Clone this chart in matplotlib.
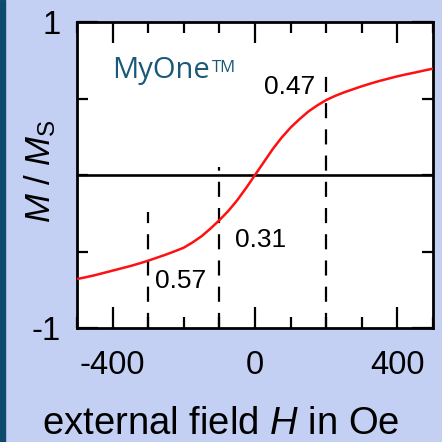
import numpy as np
import matplotlib
matplotlib.use("Agg")
import matplotlib.pyplot as plt
from matplotlib.ticker import MultipleLocator

plt.rcParams['font.family'] = ['Liberation Sans', 'DejaVu Sans']
plt.rcParams['mathtext.fontset'] = 'custom'
plt.rcParams['mathtext.rm'] = 'Liberation Sans'
plt.rcParams['mathtext.it'] = 'Liberation Sans:italic'

# magnetisation curve
field = [-500, -475, -450, -425, -400, -375, -350, -325, -300, -275, -250,
         -225, -200, -175, -150, -125, -100, -75, -50, -25, 0, 25, 50, 75,
         100, 125, 150, 175, 200, 225, 250, 275, 300, 325, 350, 375, 400,
         425, 450, 475, 500]
magn = [-0.68, -0.668, -0.655, -0.64, -0.625, -0.61, -0.595, -0.578, -0.56,
        -0.54, -0.52, -0.498, -0.475, -0.44, -0.40, -0.35, -0.295, -0.235,
        -0.165, -0.085, 0.0, 0.085, 0.17, 0.245, 0.31, 0.365, 0.415, 0.455,
        0.49, 0.517, 0.54, 0.56, 0.58, 0.598, 0.615, 0.63, 0.645, 0.658,
        0.67, 0.683, 0.695]

# dashed markers: field position, top of line, label
mark_h = [-300, -100, 200]
mark_top = [-0.24, 0.05, 0.70]
mark_txt = ['0.57', '0.31', '0.47']

bg = '#c3d0f4'
fig = plt.figure(figsize=(4.42, 4.42), dpi=100, facecolor=bg)
# dark strip on the left edge
fig.patches.append(plt.Rectangle((0, 0), 4.5 / 442, 1, transform=fig.transFigure,
                                 color='#0d4a6c', zorder=0))

ax = fig.add_axes([77 / 442, 114 / 442, 356 / 442, 306 / 442])
ax.plot(field, magn, color='#ff1010', lw=1.8, zorder=3)
ax.axhline(0, color='black', lw=1.9, zorder=2)

for h, top in zip(mark_h, mark_top):
    ax.plot([h, h], [-1, top], color='black', lw=1.6, dashes=(6.8, 5), zorder=2)

ax.text(170, 0.575, mark_txt[2], ha='right', va='center', fontsize=19)
ax.text(-55, -0.425, mark_txt[1], ha='left', va='center', fontsize=19)
ax.text(-280, -0.69, mark_txt[0], ha='left', va='center', fontsize=19)

brand = ax.text(-402, 0.634, 'MyOne', color='#1a5878', fontsize=21,
                family='Open Sans', ha='left', va='baseline')
ax.annotate('TM', xy=(1, 1), xycoords=brand, xytext=(1.5, -3),
            textcoords='offset points', color='#1a5878', fontsize=12,
            family='Open Sans', ha='left', va='top')

ax.set_xlim(-500, 500)
ax.set_ylim(-1, 1)
ax.set_xticks([-400, 0, 400])
ax.set_xticklabels(['-400', '0', '400'])
ax.xaxis.set_minor_locator(MultipleLocator(100))
ax.set_yticks([-1, 1])
ax.set_yticklabels(['-1', '1'])
ax.yaxis.set_minor_locator(MultipleLocator(0.5))

ax.tick_params(which='both', direction='in', top=True, right=True, width=1.6,
               colors='black')
ax.tick_params(which='major', length=15)
ax.tick_params(which='minor', length=8)
ax.tick_params(axis='x', which='major', labelsize=23.5, pad=16)
ax.tick_params(axis='y', which='major', labelsize=23.5, pad=12)
for s in ax.spines.values():
    s.set_linewidth(2.0)

fig.text(221 / 442, 8 / 442, 'external field $H$ in Oe', ha='center',
         va='baseline', fontsize=27.5)
fig.text(40 / 442, 1 - 171 / 442, '$M$ / $M_{\\mathrm{S}}$', ha='center',
         va='center', rotation=90, fontsize=25)

fig.savefig('out.png', dpi=100, facecolor=bg)
